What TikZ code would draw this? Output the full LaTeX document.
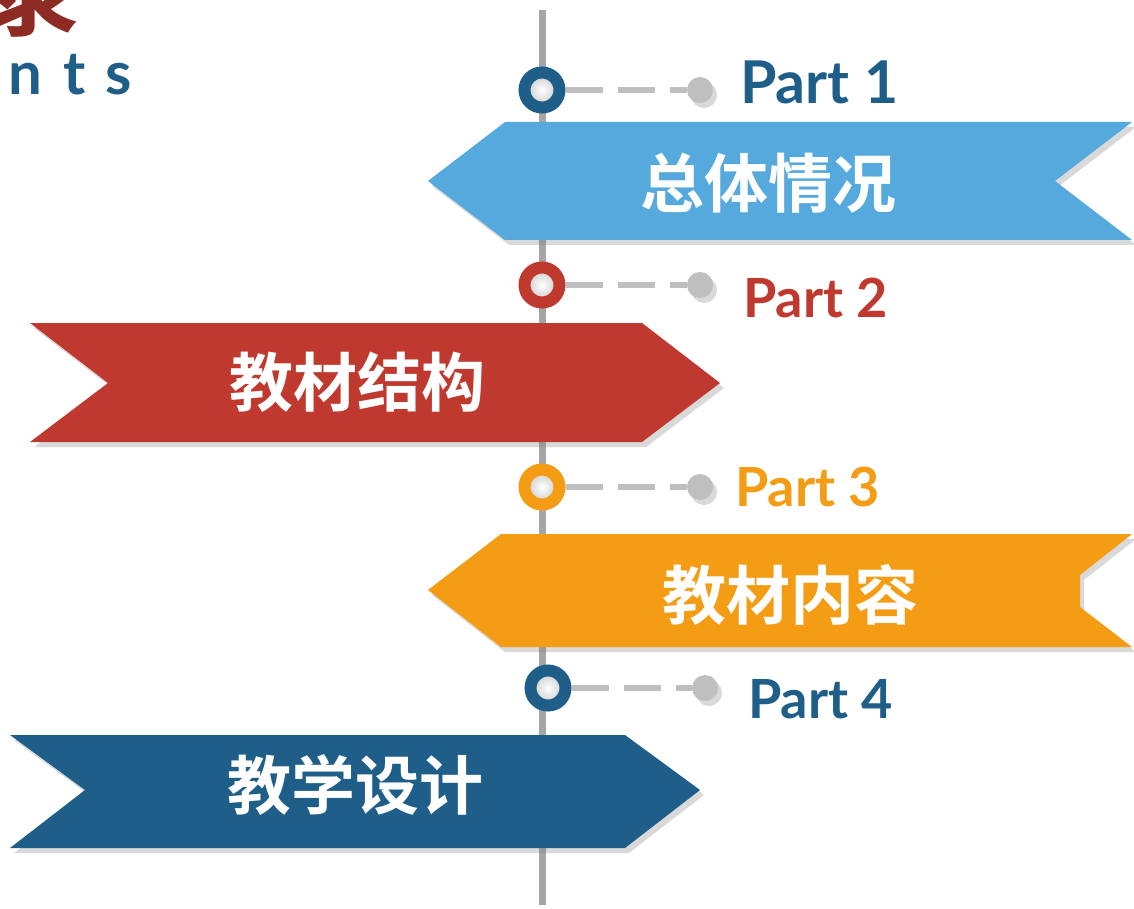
\documentclass[tikz,border=0pt]{standalone}
\usepackage{fontspec}
\setmainfont{Lato}[BoldFont={Lato Bold}]
\newfontfamily\cjk{Noto Sans CJK SC}[BoldFont={Noto Sans CJK SC Bold}]
\usetikzlibrary{shadows}
\definecolor{lblue}{HTML}{55A9DD}
\definecolor{bred}{HTML}{C0392F}
\definecolor{borange}{HTML}{F39C14}
\definecolor{dblue}{HTML}{1F5E89}
\definecolor{titred}{HTML}{8E2B22}
\definecolor{lgray}{HTML}{BFBFBF}
\definecolor{vgray}{HTML}{A6A6A6}
\tikzset{
  shad/.style={drop shadow={shadow xshift=4pt,shadow yshift=-5pt,opacity=0.3}},
  banner/.style={fill=#1,shad},
  btext/.style={text=white,inner sep=0pt,font=\cjk\bfseries\fontsize{64}{72}\selectfont},
  ptext/.style={text=#1,inner sep=0pt,anchor=base west,font=\bfseries\fontsize{54}{60}\selectfont},
  ring/.style={circle,draw=#1,line width=12pt,minimum size=35pt,inner sep=0pt,inner color=white,outer color=black!22,shad},
  gdot/.style={circle,fill=lgray,minimum size=26pt,inner sep=0pt,shad},
  dashcon/.style={draw=lgray,line width=6pt,dash pattern=on 37pt off 15pt},
  vline/.style={draw=vgray,line width=7pt,drop shadow={shadow xshift=4pt,shadow yshift=-3pt,opacity=0.25}},
}
\begin{document}
\begin{tikzpicture}[x=1pt,y=-1pt]
\useasboundingbox (0,0) rectangle (1134,909);
% title remnants
\node[text=titred,inner sep=0pt,anchor=base east,font=\cjk\bfseries\fontsize{105}{110}\selectfont] (ttl) at (82,28) {录};
\node[text=dblue,inner sep=0pt,anchor=base west,font=\bfseries\fontsize{60}{64}\selectfont] (sub) at (8,95) {n\hspace{21pt}t\hspace{20pt}s};
% vertical line
\coordinate (vtop) at (542,10);
\coordinate (vbot) at (542,905);
\draw[vline] (vtop) -- (vbot);
% banners
\path[banner=lblue] (428,181) -- (505,122) -- (1132,122) -- (1055,181) -- (1132,240) -- (505,240) -- cycle;
\path[banner=bred] (30,323) -- (642,323) -- (720,383) -- (642,442) -- (30,442) -- (108,383) -- cycle;
\path[banner=borange] (428,590) -- (501,534) -- (1132,534) -- (1080,575) -- (1080,607) -- (1132,647) -- (501,647) -- cycle;
\path[banner=dblue] (10,735) -- (625,735) -- (700,790) -- (625,848) -- (10,848) -- (85,790) -- cycle;
\node[btext] (b1) at (768,183) {总体情况};
\node[btext] (b2) at (357,382) {教材结构};
\node[btext] (b3) at (790,595) {教材内容};
\node[btext] (b4) at (355,785) {教学设计};
% rings and dots
\node[ring=dblue] (r1) at (542,90) {};
\node[gdot] (d1) at (700,90) {};
\node[ring=bred] (r2) at (542,285) {};
\node[gdot] (d2) at (700,285) {};
\node[ring=borange] (r3) at (542,487) {};
\node[gdot] (d3) at (700,487) {};
\node[ring=dblue] (r4) at (548,688) {};
\node[gdot] (d4) at (705,688) {};
\draw[dashcon] (r1.east) -- (d1.west);
\draw[dashcon] (r2.east) -- (d2.west);
\draw[dashcon] (r3.east) -- (d3.west);
\draw[dashcon] (r4.east) -- (d4.west);
% part labels
\node[ptext=dblue,font=\bfseries\fontsize{59}{64}\selectfont] (p1) at (740,104) {Part 1};
\node[ptext=bred] (p2) at (743,317) {Part 2};
\node[ptext=borange] (p3) at (735,506) {Part 3};
\node[ptext=dblue] (p4) at (748,718) {Part 4};
\end{tikzpicture}
\end{document}
